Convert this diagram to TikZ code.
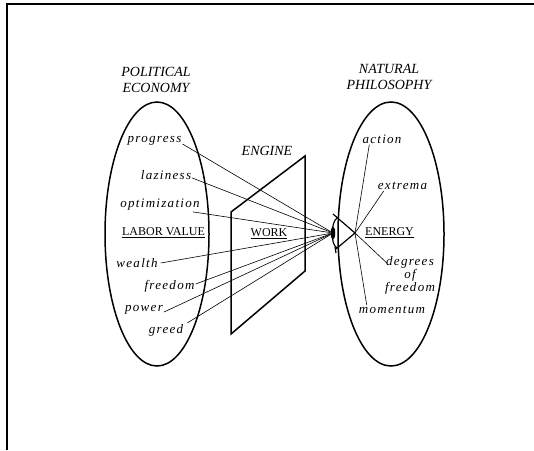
\documentclass[tikz,border=0pt]{standalone}
\usepackage{fontspec}
\setmainfont{Liberation Serif}
\usetikzlibrary{shapes.geometric}
\tikzset{
  lab/.style={font={\fontsize{13}{14}\selectfont\itshape\addfontfeature{LetterSpace=10}}, inner sep=1pt},
  ttl/.style={font={\fontsize{14}{15.5}\selectfont\itshape}, align=center, inner sep=0pt},
  keyword/.style={font={\fontsize{12}{14}\selectfont}, inner sep=1pt},
  heavy/.style={line width=1.5pt},
  conn/.style={line width=0.6pt},
  eyeline/.style={line width=1.2pt},
  pupilshape/.style={ellipse, fill=black, minimum width=4.5pt, minimum height=13pt, inner sep=0pt}
}
\begin{document}
\begin{tikzpicture}[x=1pt,y=-1pt]
\useasboundingbox (0,0) rectangle (534,450);
% frame
\draw[line width=1.5pt] (7,450) -- (7,4) -- (534,4);

% titles
\node[ttl] (pe) at (156,80) {POLITICAL\\ECONOMY};
\node[ttl] (np) at (389,77) {NATURAL\\PHILOSOPHY};
\node[ttl] (eng) at (267,151) {ENGINE};

% ellipses and engine
\draw[heavy] (157,234) ellipse [x radius=52, y radius=132];
\draw[heavy] (391,234) ellipse [x radius=53, y radius=132];
\draw[heavy] (231,212) -- (305,156) -- (305,271) -- (231,334) -- cycle;

% central words
\node[keyword] (labor) at (163.5,233) {\underline{LABOR VALUE}};
\node[keyword] (work) at (269,234) {\underline{WORK}};
\node[keyword] (energy) at (389.5,233) {\underline{ENERGY}};

% left labels
\node[lab] (prog) at (154.5,141) {progress};
\node[lab] (lazy) at (166,175) {laziness};
\node[lab] (opt) at (160,205) {optimization};
\node[lab] (wealth) at (137,263) {wealth};
\node[lab] (free) at (169.5,286) {freedom};
\node[lab] (power) at (144,310) {power};
\node[lab] (greed) at (166,330) {greed};

% right labels
\node[lab] (action) at (382,139) {action};
\node[lab] (extrema) at (402.5,186) {extrema};
\node[lab, align=center, inner sep=0pt, font={\fontsize{13}{10.5}\selectfont\itshape\addfontfeature{LetterSpace=10}}] (dof) at (410,275) {degrees\\of\\freedom};
\node[lab] (mom) at (392,310) {momentum};

% eye
\coordinate (retina) at (355,233);
\node[pupilshape] (pupil) at (333,233) {};
\coordinate (lidtop) at (333,214);
\coordinate (lidbot) at (336,249);
\draw[eyeline] (lidtop) -- (retina) -- (lidbot);
\draw[eyeline] (337,218) .. controls (331,222) and (330,244) .. (337,248);
\draw[eyeline] (335,247) -- (336,253);

% connectors from political economy to eye
\draw[conn] ([yshift=-3pt]prog.east) -- (pupil);
\draw[conn] ([yshift=-3pt]lazy.east) -- (pupil);
\draw[conn] ([xshift=-8pt]opt.south east) -- (pupil);
\draw[conn] ([xshift=2pt]wealth.east) -- (pupil);
\draw[conn] ([yshift=2pt]free.east) -- (pupil);
\draw[conn] ([yshift=-2pt]power.east) -- (pupil);
\draw[conn] ([xshift=3pt]greed.north east) -- (pupil);

% connectors from eye to natural philosophy
\draw[conn] (retina) -- ([xshift=8pt]action.south west);
\draw[conn] (retina) -- ([xshift=7pt]extrema.south west);
\draw[conn] (retina) -- ([shift={(2pt,-7pt)}]dof.north west);
\draw[conn] (retina) -- ([xshift=9pt]mom.north west);
\end{tikzpicture}
\end{document}
